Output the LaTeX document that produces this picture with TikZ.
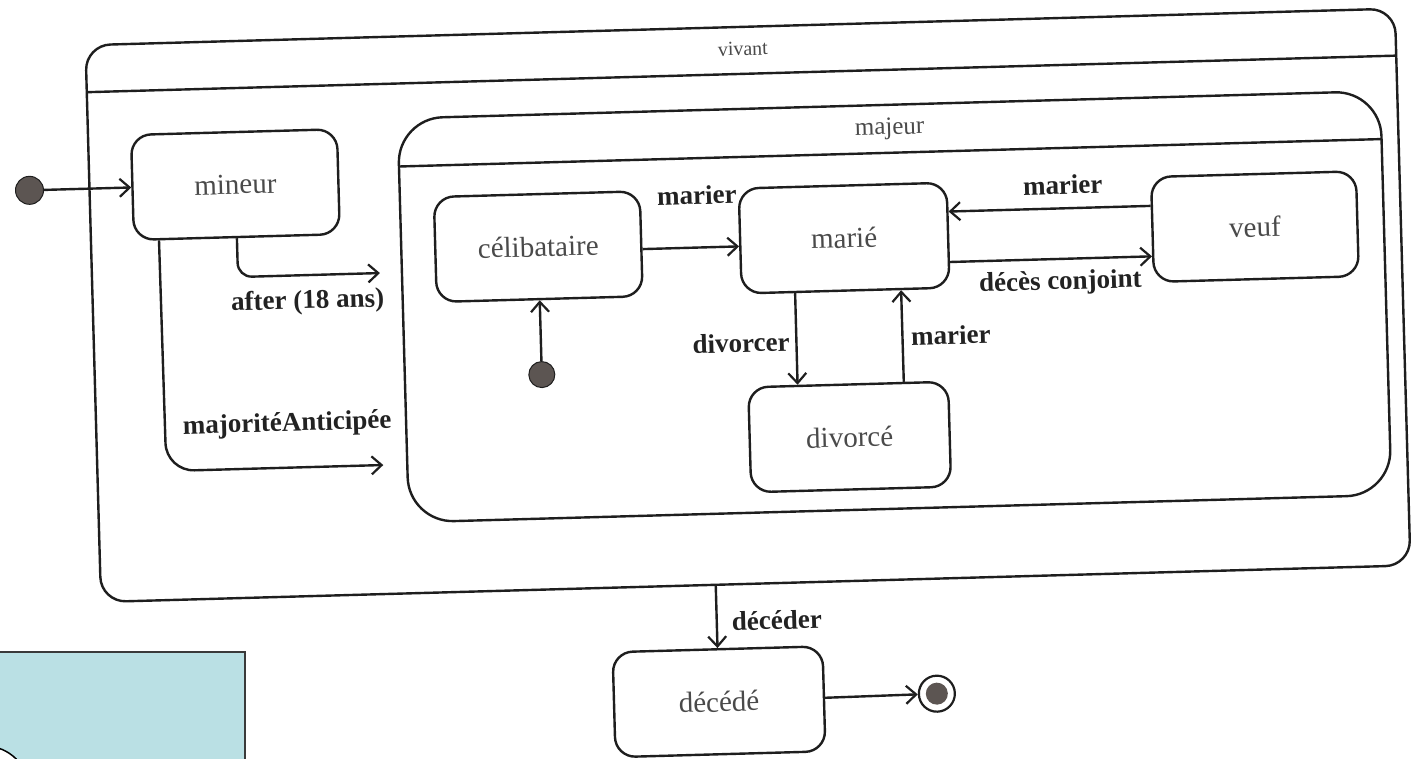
\documentclass[tikz,border=0pt]{standalone}
\usepackage{fontspec}
\setmainfont{Liberation Serif}
\usetikzlibrary{arrows.meta,calc}

\definecolor{linec}{HTML}{1E1E1E}
\definecolor{statetext}{HTML}{4A4A4A}
\definecolor{lblc}{HTML}{222222}
\definecolor{dotc}{HTML}{5C5552}
\definecolor{notefill}{HTML}{BAE0E4}
\definecolor{noteline}{HTML}{3A3A3A}

\newcommand\statefont{\fontsize{29}{32}\selectfont}
\newcommand\lblfont{\fontsize{27}{30}\selectfont\bfseries}

\begin{document}
\begin{tikzpicture}[x=1pt,y=-1pt,
  composite/.style={draw=linec, line width=2.4pt, rectangle},
  stbox/.style={draw=linec, line width=2.4pt, rectangle, rounded corners=20pt,
    minimum width=206pt, minimum height=105pt, font=\statefont, text=statetext},
  trans/.style={draw=linec, line width=2.4pt,
    -{Straight Barb[length=10pt,width=18pt,line width=2.2pt]}},
  lbl/.style={font=\lblfont, text=lblc, inner sep=0pt},
  initdot/.style={circle, fill=dotc, draw=linec, line width=1pt,
    minimum size=28pt, inner sep=0pt},
  ttl/.style={text=statetext, inner sep=0pt}]

\useasboundingbox (0,0) rectangle (1412,758);
\fill[white] (0,0) rectangle (1412,758);

\begin{scope}
\clip (0,0) rectangle (1412,758);

\begin{scope}[rotate around={1.6:(706,379)}, transform shape]
  % composite state "vivant"
  \node[composite, rounded corners=25pt, minimum width=1310pt, minimum height=557pt]
    (vivant) at (750,306.5) {};
  \draw[draw=linec, line width=2.4pt] (95,75) -- (1405,75);
  \node[ttl, font=\fontsize{20}{22}\selectfont] (vivantT) at (752,50) {vivant};

  % composite state "majeur"
  \node[composite, rounded corners=45pt, minimum width=983pt, minimum height=404pt]
    (majeur) at (896.5,312) {};
  \draw[draw=linec, line width=2.4pt] (405,158) -- (1388,158);
  \node[ttl, font=\fontsize{25}{28}\selectfont] (majeurT) at (896.5,134) {majeur};

  % simple states
  \node[initdot] (init1) at (35,171.5) {};
  \node[stbox] (mineur) at (241,171.5) {mineur};
  \node[stbox] (celib) at (542,242) {célibataire};
  \node[stbox, minimum width=208pt] (marie) at (848,242) {marié};
  \node[stbox, minimum width=205pt] (veuf) at (1259,242) {veuf};
  \node[stbox, minimum width=200pt] (divorce) at (848,441) {divorcé};
  \node[initdot, minimum size=26pt] (init2) at (542,370) {};
  \node[stbox, minimum width=210pt] (decede) at (710,702) {décédé};
  \node[circle, draw=linec, line width=2.2pt, fill=white, minimum size=36pt,
    inner sep=0pt] (final) at (928,700) {};
  \node[circle, fill=dotc, minimum size=22pt, inner sep=0pt] (finaldot) at (final) {};

  % free ends of the transitions into "majeur"
  \coordinate (afterKnee) at (241,264);
  \coordinate (afterEnd) at (383,264);
  \coordinate (majKnee) at (164,456);
  \coordinate (majEnd) at (381,456);

  % transitions
  \draw[trans] (init1) -- (mineur);
  \draw[trans, rounded corners=14pt] (mineur.south) -- (afterKnee) -- (afterEnd);
  \draw[trans, rounded corners=28pt]
    ($(mineur.south west)!0.126!(mineur.south east)$) -- (majKnee) -- (majEnd);
  \draw[trans] (init2) -- (celib);
  \draw[trans] ($(celib.north east)!0.55!(celib.south east)$)
    -- ($(marie.north west)!0.55!(marie.south west)$);
  \draw[trans] ($(veuf.north west)!0.28!(veuf.south west)$)
    -- ($(marie.north east)!0.28!(marie.south east)$);
  \draw[trans] ($(marie.north east)!0.75!(marie.south east)$)
    -- ($(veuf.north west)!0.75!(veuf.south west)$);
  \draw[trans] ($(marie.south west)!0.26!(marie.south east)$)
    -- ($(divorce.north west)!0.25!(divorce.north east)$);
  \draw[trans] ($(divorce.north west)!0.775!(divorce.north east)$)
    -- ($(marie.south west)!0.764!(marie.south east)$);
  \draw[trans] ($(vivant.south west)!(decede.north)!(vivant.south east)$) -- (decede.north);
  \draw[trans] (decede) -- (final);

  % transition labels
  \node[lbl] (lAfter) at (310,291) {after (18 ans)};
  \node[lbl] (lMaj) at (286,413) {majoritéAnticipée};
  \node[lbl] (lMarier1) at (702,195) {marier};
  \node[lbl] (lDivorcer) at (742,344) {divorcer};
  \node[lbl] (lMarier2) at (952,342) {marier};
  \node[lbl] (lMarier3) at (1068,195) {marier};
  \node[lbl] (lDeces) at (1063,293) {décès conjoint};
  \node[lbl] (lDeceder) at (770,622) {décéder};
\end{scope}

% pale blue panel in the lower left corner
\node[draw=noteline, line width=1.5pt, fill=notefill, minimum width=248pt,
  minimum height=112pt, inner sep=0pt] (panel) at (121,708) {};
\node[circle, draw=black, line width=1.5pt, fill=white, minimum size=88pt,
  inner sep=0pt] (blob) at (-15,790) {};
\end{scope}
\end{tikzpicture}
\end{document}
